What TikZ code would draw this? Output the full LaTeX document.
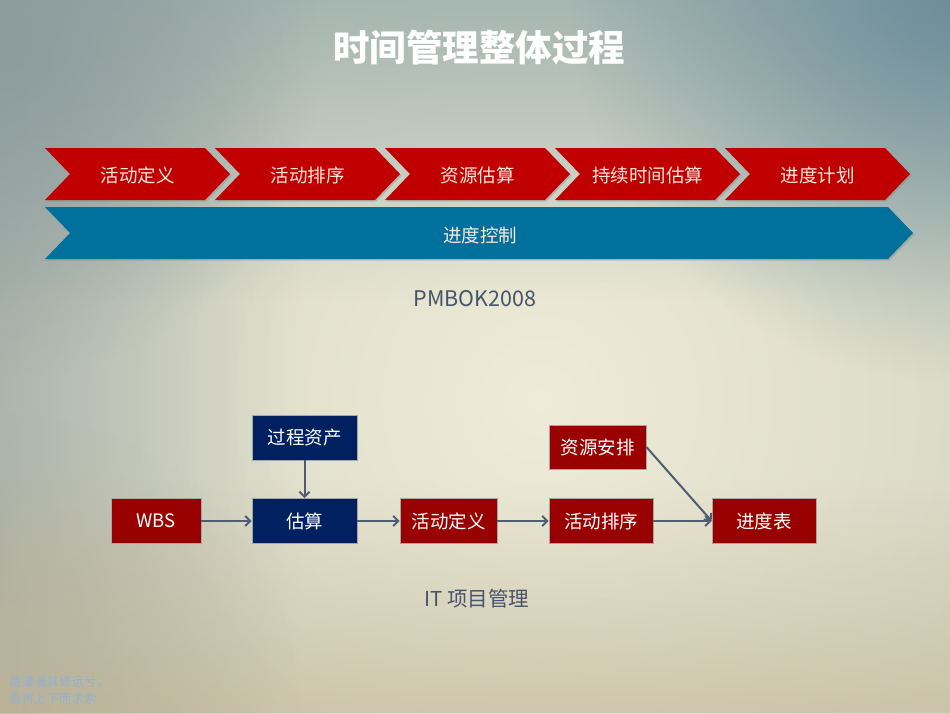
\documentclass[tikz,border=0pt]{standalone}
\usepackage{fontspec}
\setmainfont{Noto Sans CJK SC}
\usetikzlibrary{arrows.meta,fadings,shadows}
\definecolor{chevred}{HTML}{C00000}
\definecolor{boxred}{HTML}{990000}
\definecolor{navy}{HTML}{002060}
\definecolor{barblue}{HTML}{00719C}
\definecolor{arrowgray}{HTML}{4E5D70}
\definecolor{chevtext}{HTML}{FCE8DC}
\definecolor{labelgray}{HTML}{46546A}
\definecolor{bgin}{HTML}{EEECD9}
\definecolor{bgout}{HTML}{C2C3AE}
\definecolor{bgtop}{HTML}{8FA6A8}
\definecolor{bgteal}{HTML}{5F8496}
\definecolor{bgleft}{HTML}{8A9A9C}
\definecolor{bgbottom}{HTML}{BFB293}
\definecolor{wmark}{HTML}{93B2CC}
\tikzfading[name=fadedown, top color=transparent!30, bottom color=transparent!100]
\tikzfading[name=faderight, left color=transparent!45, right color=transparent!100]
\tikzfading[name=fadeup, top color=transparent!100, bottom color=transparent!35]
\tikzfading[name=blob, inner color=transparent!20, outer color=transparent!100]
\tikzset{
  chev/.style={fill=chevred, drop shadow={opacity=0.35, shadow xshift=1.5pt, shadow yshift=-1.5pt}},
  chevlabel/.style={text=chevtext, font=\fontsize{18.5}{20}\selectfont, inner sep=0pt},
  flowbox/.style={draw=gray!70, line width=0.8pt, text=white, font=\fontsize{18.5}{20}\selectfont, minimum height=45pt, inner sep=0pt},
  redbox/.style={flowbox, fill=boxred},
  bluebox/.style={flowbox, fill=navy},
  flow/.style={draw=arrowgray, line width=2pt, -{Straight Barb[length=5pt,width=10pt]}},
}
\begin{document}
\begin{tikzpicture}[x=1pt,y=1pt]
\useasboundingbox (0,0) rectangle (950,-713);
% background
\begin{scope}
\clip (0,0) rectangle (950,-713);
\fill[bgout] (0,0) rectangle (950,-713);
\shade[inner color=bgin, outer color=bgout] (540,-400) circle (1000pt);
\fill[bgtop, path fading=fadedown] (0,0) rectangle (950,-300);
\fill[bgteal, path fading=blob] (950,0) circle (380pt);
\fill[bgleft, path fading=blob] (0,-60) circle (320pt);
\fill[bgleft, path fading=faderight] (0,0) rectangle (300,-713);
\fill[bgbottom, path fading=fadeup, opacity=0.8] (0,-480) rectangle (950,-713);
\fill[bgbottom, path fading=blob, opacity=0.6] (0,-713) circle (300pt);
\end{scope}
% title
\node[text=white, font=\fontsize{36.5}{40}\selectfont\bfseries] (title) at (479,-47) {时间管理整体过程};
% chevrons
\foreach \s/\t/\n in {45/活动定义/c1, 215/活动排序/c2, 385/资源估算/c3, 555/持续时间估算/c4, 725/进度计划/c5}{
  \fill[chev] (\s,-148) -- ++(160,0) -- ++(25,-26) -- ++(-25,-26) -- ++(-160,0) -- ++(25,26) -- cycle;
  \node[chevlabel] (\n) at (\s+92.5,-175) {\t};
}
\fill[fill=barblue, drop shadow={opacity=0.35, shadow xshift=1.5pt, shadow yshift=-1.5pt}]
  (45,-207) -- (888,-207) -- (913,-233) -- (888,-259) -- (45,-259) -- (70,-233) -- cycle;
\node[chevlabel] (ctrl) at (480,-235) {进度控制};
\node[text=labelgray, font=\fontsize{21.5}{24}\selectfont] (pmbok) at (475,-299) {PMBOK2008};
% flow boxes
\node[bluebox, minimum width=105pt] (asset) at (304.5,-437.5) {过程资产};
\node[bluebox, minimum width=105pt] (est) at (304.5,-521) {估算};
\node[redbox, minimum width=90pt] (wbs) at (156,-521) {WBS};
\node[redbox, minimum width=97pt] (def) at (448.5,-521) {活动定义};
\node[redbox, minimum width=97pt, minimum height=44pt] (res) at (597.5,-447) {资源安排};
\node[redbox, minimum width=104pt] (seq) at (601,-521) {活动排序};
\node[redbox, minimum width=104pt] (sched) at (764,-521) {进度表};
\draw[flow] (asset) -- (est);
\draw[flow] (wbs) -- (est);
\draw[flow] (est) -- (def);
\draw[flow] (def) -- (seq);
\draw[flow] (seq) -- (sched);
\draw[flow] (res.east) -- (sched.west);
\node[text=labelgray, font=\fontsize{20.5}{22}\selectfont] (itpm) at (477,-599) {IT 项目管理};
% watermark
\node[text=wmark, font=\fontsize{12.5}{17}\selectfont, align=left, anchor=north west, inner sep=0pt] (wm) at (9,-676) {路漫漫其修远兮，\\吾将上下而求索};
\end{tikzpicture}
\end{document}
